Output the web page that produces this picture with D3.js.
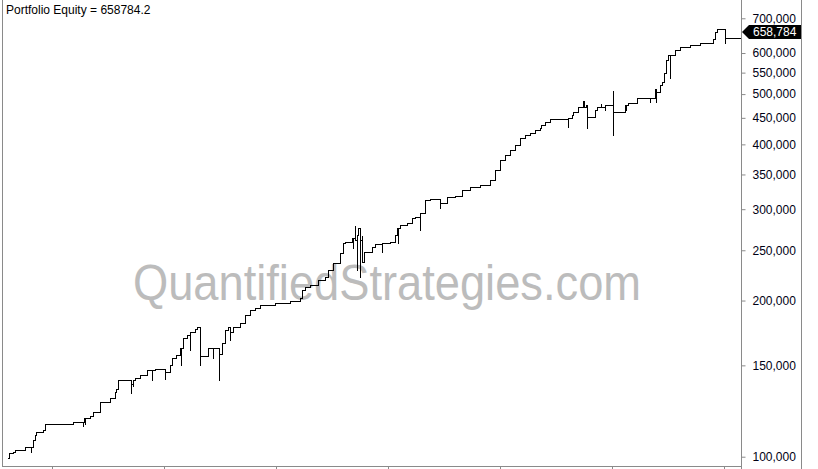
<!DOCTYPE html>
<html>
<head>
<meta charset="utf-8">
<script src="https://cdn.jsdelivr.net/npm/d3@7"></script>
<style>
  html, body { margin: 0; padding: 0; background: #fff; }
  svg { display: block; }
  text { font-family: "Liberation Sans", Arial, sans-serif; }
</style>
</head>
<body>
<svg id="chart" width="818" height="469"></svg>
<script>
// ---- data ----
const titleText = "Portfolio Equity = 658784.2";
const lastEquity = 658784.2;
const watermark = "QuantifiedStrategies.com";

// bar number of each equity change (several entries on one bar draw an intrabar spike)
const bars = [0,2,6,8,18,24,24,26,28,29,36,38,66,76,76,77,78,78,83,86,93,103,108,109,111,
  124,124,126,126,128,133,140,145,145,148,158,158,163,165,169,173,174,174,176,180,183,183,188,190,
  193,193,201,206,206,212,212,215,218,221,223,223,226,233,238,243,248,253,268,283,293,295,298,303,
  311,318,321,326,333,336,338,345,346,346,348,348,350,350,351,353,353,355,355,357,365,368,375,375,
  383,388,390,391,391,393,400,405,408,413,413,418,423,433,433,440,448,455,463,473,483,488,493,498,
  503,508,513,518,523,528,533,534,538,543,561,561,565,566,571,576,576,577,577,579,580,580,588,590,
  594,594,598,598,606,606,606,618,619,619,621,630,643,643,648,649,649,653,655,657,659,661,663,663,
  668,673,683,693,706,708,710,718,718,734];
const equity = [99400,101700,102300,103000,104400,102000,104400,107700,110100,111600,112600,115600,116600,114500,116600,118700,115500,118700,119800,121900,127500,129800,133300,135100,140600,
  132700,138000,136900,140600,141800,143700,146900,140600,146900,147600,141200,145600,150200,155000,157100,162000,150200,162000,169400,171600,160600,173900,176300,177800,
  150200,156400,162000,155000,162000,140600,157700,165600,175500,177800,167900,173900,177800,181000,187600,191800,193500,196100,197800,199600,202300,209600,212400,214300,
  219100,222000,229000,236300,247000,258200,259300,264000,252500,264000,279700,262000,229000,267500,276000,222000,262000,267500,237300,248100,253600,257000,248100,258200,
  259300,267500,276000,258000,276000,279700,282200,288500,289800,273500,295000,312500,313900,302000,308300,316000,318100,326700,331100,334000,341500,357000,373200,381600,
  390100,398900,411500,417000,420700,426400,430200,436000,441800,447700,432100,449700,455700,461800,472200,487100,476400,487100,472000,476400,430200,451700,466000,472200,
  480700,472200,466000,476400,509200,417000,461800,476400,466000,476400,480700,491400,482800,491400,511500,482800,505000,520700,527500,549000,581800,594800,537000,594800,
  608100,616300,621800,627300,638500,658600,667500,627300,641400,641400];

// 650,000 sits under the last-value label in the reference, so it is not listed
const yTicks = [100000,150000,200000,250000,300000,350000,400000,450000,500000,550000,600000,700000];
const xTicks = [45,157,269,381,493,605,717];

// ---- drawing ----
const svg = d3.select("#chart");
const plot = { left: 2, right: 741, top: 0, bottom: 466 };
const axisRight = 801;

const x = d3.scaleLinear().domain([0, 734]).range([7, 741]);
const y = d3.scaleLog().domain([95960, 759200]).range([466, 0]);

const grey = "#8a8a8a";

// watermark
svg.append("text")
  .attr("x", 387).attr("y", 300)
  .attr("text-anchor", "middle")
  .attr("font-family", "'Open Sans', 'Noto Sans', sans-serif")
  .attr("font-size", 50)
  .attr("fill", "#bcbcbc")
  .attr("textLength", 508)
  .attr("lengthAdjust", "spacingAndGlyphs")
  .text(watermark);

// equity line
const pts = bars.map((b, i) => [b, equity[i]]);
const line = d3.line().x(d => Math.round(x(d[0])) + 0.5).y(d => Math.round(y(d[1])) + 0.5).curve(d3.curveStepAfter);
svg.append("path")
  .attr("d", line(pts))
  .attr("fill", "none")
  .attr("stroke", "#000")
  .attr("stroke-width", 1)
  .attr("shape-rendering", "crispEdges");

// frame
svg.append("line").attr("x1", plot.left + 0.5).attr("x2", plot.left + 0.5).attr("y1", 0).attr("y2", plot.bottom)
  .attr("stroke", grey);
svg.append("line").attr("x1", plot.left).attr("x2", plot.right).attr("y1", plot.bottom + 0.5).attr("y2", plot.bottom + 0.5)
  .attr("stroke", grey);
svg.append("line").attr("x1", axisRight + 0.5).attr("x2", axisRight + 0.5).attr("y1", 0).attr("y2", 469)
  .attr("stroke", grey);

// bottom axis ticks
const xAxis = d3.axisBottom(x).tickValues(xTicks).tickSize(4).tickFormat("");
const gx = svg.append("g").attr("transform", `translate(0,${plot.bottom})`).call(xAxis);
gx.select(".domain").remove();
gx.selectAll("line").attr("stroke", grey);

// right axis
const yAxis = d3.axisRight(y).tickValues(yTicks).tickSize(4).tickPadding(7)
  .tickFormat(d3.format(","));
const gy = svg.append("g").attr("transform", `translate(${plot.right + 0.5},0)`).call(yAxis);
gy.select(".domain").attr("d", "M0,0V469").attr("stroke", grey);
gy.selectAll("line").attr("stroke", grey);
gy.selectAll("text").attr("font-family", "'Liberation Sans', Arial, sans-serif")
  .attr("font-size", 12).attr("fill", "#000014");

// last value label
const ly = y(lastEquity);
const lab = svg.append("g").attr("transform", `translate(0,${ly})`);
lab.append("path")
  .attr("d", `M${plot.right + 1},0 L${plot.right + 8},-7 L${axisRight},-7 L${axisRight},7 L${plot.right + 8},7 Z`)
  .attr("fill", "#000");
lab.append("text")
  .attr("x", plot.right + 12).attr("y", 4.5)
  .attr("font-size", 12).attr("fill", "#fff")
  .text(d3.format(",.0f")(lastEquity));

// title
svg.append("text").attr("x", 6).attr("y", 14).attr("font-size", 12).attr("fill", "#000")
  .text(titleText);
</script>
</body>
</html>
